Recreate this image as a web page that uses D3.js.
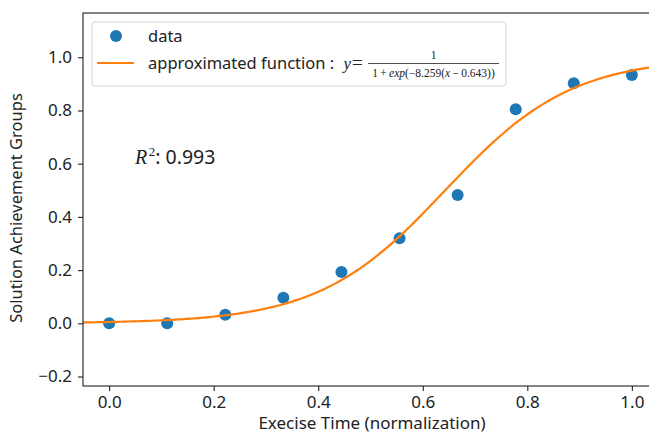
<!DOCTYPE html>
<html><head><meta charset="utf-8">
<script src="https://cdn.jsdelivr.net/npm/d3@7"></script>
<style>
body{margin:0;background:#fff;}
svg{display:block;}
text{font-family:"Noto Sans","DejaVu Sans",sans-serif;fill:#222;}
.math{font-family:"Liberation Serif","DejaVu Serif",serif;}
</style></head><body>
<svg id="chart" width="649" height="436"></svg>
<script>
// Data
const xValues = [0, 0.1111, 0.2222, 0.3333, 0.4444, 0.5556, 0.6667, 0.7778, 0.8889, 1.0];
const yValues = [0.0, 0.0, 0.032, 0.096, 0.193, 0.320, 0.482, 0.805, 0.902, 0.933];
const fitK = 8.259, fitX0 = 0.643;
const xTicks = [0.0, 0.2, 0.4, 0.6, 0.8, 1.0];
const yTicks = [-0.2, 0.0, 0.2, 0.4, 0.6, 0.8, 1.0];
const rSquared = "0.993";

const svg = d3.select("#chart");
const L = 83, T = 13, B = 386, R = 658;
const x = d3.scaleLinear().domain([-0.05, 1.05]).range([L, R]);
const y = d3.scaleLinear().domain([-0.2357, 1.1665]).range([B, T]);

// fitted curve (from the fitted formula shown in the legend)
const curveX = d3.range(0, 201).map(i => -0.05 + 1.1 * i / 200);
const curve = curveX.map(v => [v, 1 / (1 + Math.exp(-fitK * (v - fitX0)))]);

svg.append("clipPath").attr("id","clip").append("rect")
  .attr("x", L).attr("y", T).attr("width", R - L).attr("height", B - T);

const plot = svg.append("g").attr("clip-path","url(#clip)");
plot.selectAll("circle").data(xValues).enter().append("circle")
  .attr("cx", (d) => x(d)).attr("cy", (d, i) => y(yValues[i])).attr("r", 6)
  .attr("fill", "#1f77b4");
plot.append("path").datum(curve)
  .attr("d", d3.line().x(d => x(d[0])).y(d => y(d[1])))
  .attr("fill","none").attr("stroke","#ff7f0e").attr("stroke-width",2.2);

// axes
const fmt = d3.format(".1f");
const minus = s => s.replace("-", "\u2212");
const xAxis = svg.append("g").attr("transform", `translate(0,${B})`)
  .call(d3.axisBottom(x).tickValues(xTicks).tickFormat(d => minus(fmt(d))).tickSize(5).tickPadding(5));
const yAxis = svg.append("g").attr("transform", `translate(${L},0)`)
  .call(d3.axisLeft(y).tickValues(yTicks).tickFormat(d => minus(fmt(d))).tickSize(5).tickPadding(6));
[xAxis, yAxis].forEach(a => {
  a.select(".domain").remove();
  a.selectAll("line").attr("stroke","#222").attr("stroke-width",1.1);
  a.selectAll("text").attr("font-size", 17).attr("fill","#222")
    .style("font-family", '"Noto Sans","DejaVu Sans",sans-serif');
});
// frame
svg.append("rect").attr("x", L).attr("y", T).attr("width", R - L).attr("height", B - T)
  .attr("fill","none").attr("stroke","#222").attr("stroke-width",1.1);

// axis labels
svg.append("text").attr("x", 372).attr("y", 429)
  .attr("text-anchor","middle").attr("font-size",17).text("Execise Time (normalization)");
svg.append("text").attr("transform", `translate(22,208) rotate(-90)`)
  .attr("text-anchor","middle").attr("font-size",16.5).text("Solution Achievement Groups");

// R^2 annotation
const r2 = svg.append("text").attr("x", 135).attr("y", 164).attr("font-size", 19.5);
r2.append("tspan").attr("class","math").attr("font-style","italic").attr("font-size", 20).text("R");
r2.append("tspan").attr("class","math").attr("font-size", 13).attr("dx", 1.5).attr("dy", -8).text("2");
r2.append("tspan").attr("dy", 8).text(": " + rSquared);

// legend
const lg = svg.append("g");
lg.append("rect").attr("x", 92).attr("y", 22).attr("width", 414).attr("height", 64)
  .attr("rx", 3).attr("fill","#fff").attr("fill-opacity",0.8)
  .attr("stroke","#d6d6d6").attr("stroke-width",1);
lg.append("circle").attr("cx", 116).attr("cy", 36).attr("r", 6).attr("fill","#1f77b4");
lg.append("line").attr("x1", 97).attr("x2", 134).attr("y1", 63).attr("y2", 63)
  .attr("stroke","#ff7f0e").attr("stroke-width",2.2);
lg.append("text").attr("x", 148).attr("y", 42).attr("font-size", 16.5).text("data");
lg.append("text").attr("x", 148).attr("y", 69).attr("font-size", 16.5).text("approximated function :");
// formula
lg.append("text").attr("class","math").attr("x", 343.5).attr("y", 69).attr("font-size", 17)
  .attr("font-style","italic").text("y");
lg.append("text").attr("class","math").attr("x", 352).attr("y", 69).attr("font-size", 19).text("=");
lg.append("line").attr("x1", 368).attr("x2", 499).attr("y1", 63.5).attr("y2", 63.5)
  .attr("stroke","#222").attr("stroke-width",0.8);
lg.append("text").attr("class","math").attr("x", 433.5).attr("y", 59).attr("font-size", 11.5)
  .attr("text-anchor","middle").text("1");
const den = lg.append("text").attr("class","math").attr("x", 433.5).attr("y", 76.5)
  .attr("font-size", 11.5).attr("text-anchor","middle");
den.append("tspan").text("1\u2009+\u2009");
den.append("tspan").attr("font-style","italic").text("exp");
den.append("tspan").text("(\u2212" + fitK + "(");
den.append("tspan").attr("font-style","italic").text("x");
den.append("tspan").text("\u2009\u2212\u2009" + fitX0 + "))");
</script>
</body></html>
